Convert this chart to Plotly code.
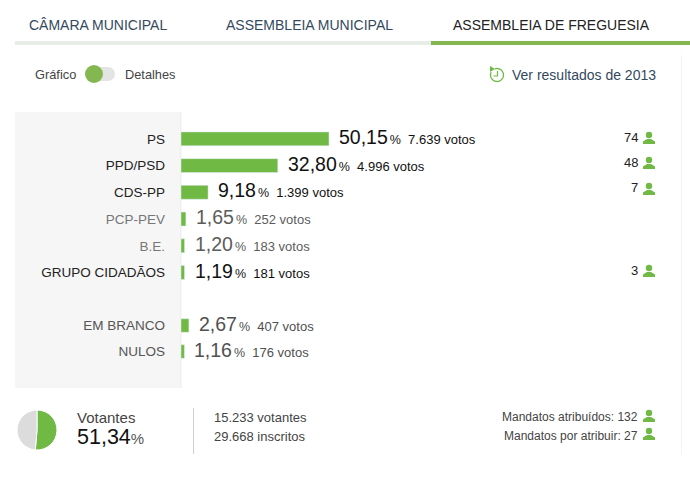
import math

import plotly.graph_objects as go

# Results
parties = ['PS', 'PPD/PSD', 'CDS-PP', 'PCP-PEV', 'B.E.', 'GRUPO CIDADÃOS']
party_pct = [50.15, 32.80, 9.18, 1.65, 1.20, 1.19]
party_pct_text = ['50,15', '32,80', '9,18', '1,65', '1,20', '1,19']
party_votes = ['7.639', '4.996', '1.399', '252', '183', '181']
party_seats = [74, 48, 7, None, None, 3]
others = ['EM BRANCO', 'NULOS']
other_pct = [2.67, 1.16]
other_pct_text = ['2,67', '1,16']
other_votes = ['407', '176']
tabs = ['CÂMARA MUNICIPAL', 'ASSEMBLEIA MUNICIPAL', 'ASSEMBLEIA DE FREGUESIA']
turnout = [51.34, 48.66]

W, H = 690, 480
GREEN = '#6fb944'
NAVY = '#34495e'
FONT = 'Liberation Sans'
SEAT_ROWS = [138, 163, 189, None, None, 271]


def px(x):
    return x / W


def py(y):
    return 1 - y / H


def text(x, y, s, size=13, color='#333333', anchor='left'):
    return dict(x=px(x), y=py(y), xref='paper', yref='paper', text=s, showarrow=False,
                xanchor=anchor, yanchor='middle', align=anchor,
                font=dict(size=size, color=color, family=FONT))


def rect(x0, y0, x1, y1, color):
    return dict(type='rect', xref='paper', yref='paper', x0=px(x0), x1=px(x1), y0=py(y0), y1=py(y1),
                fillcolor=color, line_width=0, layer='below')


def circle(cx, cy, r, color):
    return dict(type='circle', xref='paper', yref='paper', x0=px(cx - r), x1=px(cx + r), y0=py(cy - r), y1=py(cy + r),
                fillcolor=color, line_width=0)


def path(points, fill=None, line=None, width=0):
    d = 'M' + 'L'.join('{:.5f},{:.5f}'.format(px(x), py(y)) for x, y in points)
    if fill:
        d += 'Z'
    return dict(type='path', xref='paper', yref='paper', path=d, fillcolor=fill or 'rgba(0,0,0,0)',
                line=dict(color=line or 'rgba(0,0,0,0)', width=width))


def person(cx, cy):
    # Little green seat icon: head plus shoulders
    return [circle(cx, cy - 3, 3.2, GREEN),
            path([(cx - 6, cy + 6), (cx - 6, cy + 3.5), (cx - 2, cy + 1), (cx + 2, cy + 1), (cx + 6, cy + 3.5), (cx + 6, cy + 6)],
                 fill=GREEN)]


def value_label(pct, votes):
    return ("<span style='font-size:19.5px'>{}</span><span style='font-size:7px'> </span>"
            "<span style='font-size:12.5px'>%</span><span style='font-size:13px'>  {} votos</span>").format(pct, votes)


fig = go.Figure()
fig.add_trace(go.Bar(x=party_pct, y=parties, orientation='h', marker_color=GREEN, xaxis='x', yaxis='y',
                     hoverinfo='skip', showlegend=False))
fig.add_trace(go.Bar(x=other_pct, y=others, orientation='h', marker_color=GREEN, xaxis='x', yaxis='y2',
                     hoverinfo='skip', showlegend=False))
fig.add_trace(go.Pie(values=turnout, sort=False, direction='clockwise', rotation=0, textinfo='none', hoverinfo='skip',
                     marker=dict(colors=[GREEN, '#dcdcdc'], line=dict(color='white', width=1)),
                     domain=dict(x=[px(17), px(57)], y=[py(450), py(410)]), showlegend=False))

shapes = [rect(15, 112, 181, 388, '#f6f6f6'),
          rect(180, 112, 181.5, 388, '#efefef'),
          rect(15, 41, 431, 45, '#e9ede8'),
          rect(431, 41, 690, 45, '#85b750'),
          rect(681, 55, 682, 455, '#f3f3f3'),
          rect(193, 408, 194, 454, '#d0d0d0'),
          circle(94, 74, 7, '#e4e4e4'), circle(108, 74, 7, '#e4e4e4'),
          dict(type='rect', xref='paper', yref='paper', x0=px(94), x1=px(108), y0=py(67), y1=py(81),
               fillcolor='#e4e4e4', line_width=0),
          circle(94, 74, 9, '#85b750')]

# Green "history" icon next to the 2013 link
arc = [(497 + 6.5 * math.cos(math.radians(a)), 75 + 6.5 * math.sin(math.radians(a))) for a in range(-110, 215, 15)]
shapes.append(path(arc, line=GREEN, width=1.3))
shapes.append(path([(490, 66), (495, 69), (490, 72)], fill=GREEN))
shapes.append(path([(497.5, 71), (497.5, 76), (493.5, 76)], line=GREEN, width=1.2))

annotations = [text(27, 25, tabs[0], 14, NAVY),
               text(224, 25, tabs[1], 14, NAVY),
               text(451, 25, tabs[2], 14, '#222222'),
               text(33, 74, 'Gráfico', 12.8, '#444444'),
               text(123, 74, 'Detalhes', 12.8, '#444444'),
               text(510, 75, 'Ver resultados de 2013', 14, NAVY),
               text(75, 417, 'Votantes', 15, '#444444'),
               text(75, 437, "<span style='font-size:21.5px;color:#111111'>51,34</span>%", 15, '#555555'),
               text(212, 417, '15.233 votantes', 13, '#444444'),
               text(212, 436, '29.668 inscritos', 13, '#444444'),
               text(640, 417, 'Mandatos atribuídos: 132', 12, '#444444', 'right'),
               text(640, 436, 'Mandatos por atribuir: 27', 12, '#444444', 'right')]
shapes += person(649, 416) + person(649, 434)

# Values beside each bar, elected parties in black and the rest in grey
party_colors = ['#111111' if s else '#5c5c5c' for s in party_seats]
for name, pct, pct_text, votes, color in zip(parties, party_pct, party_pct_text, party_votes, party_colors):
    annotations.append(dict(x=pct, y=name, xref='x', yref='y', text=value_label(pct_text, votes), xshift=8, yshift=2,
                            showarrow=False, xanchor='left', font=dict(color=color, family=FONT)))
for name, pct, pct_text, votes in zip(others, other_pct, other_pct_text, other_votes):
    annotations.append(dict(x=pct, y=name, xref='x', yref='y2', text=value_label(pct_text, votes), xshift=8, yshift=2,
                            showarrow=False, xanchor='left', font=dict(color='#505050', family=FONT)))

# Seat counts on the right
for seats, row_y in zip(party_seats, SEAT_ROWS):
    if seats is None:
        continue
    annotations.append(text(640, row_y - 1, str(seats), 13, '#222222', 'right'))
    shapes += person(649, row_y)

party_ticks = ["<span style='color:{}'>{}</span>".format('#222222' if s else '#777777', n)
               for n, s in zip(parties, party_seats)]
axis_style = dict(type='category', autorange='reversed', showgrid=False, zeroline=False, showline=False,
                  ticks='', tickfont=dict(size=13.5, family=FONT, color='#555555'), ticklabelstandoff=15, fixedrange=True)

fig.update_layout(
    width=W, height=H, margin=dict(l=0, r=0, t=0, b=0), autosize=False,
    paper_bgcolor='white', plot_bgcolor='rgba(0,0,0,0)', bargap=0.48,
    xaxis=dict(domain=[px(181), 1], range=[0, 172.5], visible=False, anchor='y', fixedrange=True),
    yaxis=dict(domain=[py(287.5), py(125.5)], anchor='x', tickmode='array', tickvals=parties, ticktext=party_ticks,
               categoryorder='array', categoryarray=parties, **axis_style),
    yaxis2=dict(domain=[py(366.5), py(312.5)], anchor='x', categoryorder='array', categoryarray=others, **axis_style),
    shapes=shapes, annotations=annotations,
)

fig.write_html("out.html", config={'displayModeBar': False},
               post_script="document.body.style.margin = '0';")
